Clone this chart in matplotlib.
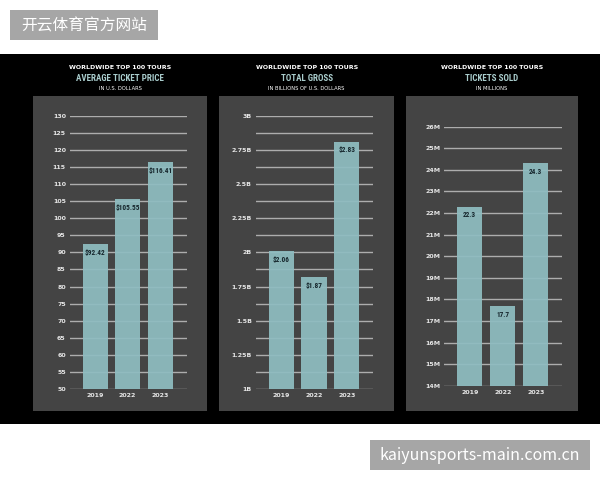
import matplotlib
matplotlib.use("Agg")
import matplotlib.pyplot as plt
from matplotlib.patches import Rectangle

# ---------------- data ----------------
years = ["2019", "2022", "2023"]

price_values = [92.42, 105.55, 116.41]
price_labels = ["$92.42", "$105.55", "$116.41"]
price_ticks = [50, 55, 60, 65, 70, 75, 80, 85, 90, 95, 100, 105, 110, 115, 120, 125, 130]
price_ticklabels = [str(t) for t in price_ticks]

gross_values = [2.01, 1.82, 2.81]          # bar heights as drawn
gross_labels = ["$2.06", "$1.87", "$2.83"]  # printed labels
gross_ticks = [1.0, 1.25, 1.5, 1.75, 2.0, 2.25, 2.5, 2.75, 3.0]
gross_ticklabels = ["1B", "1.25B", "1.5B", "1.75B", "2B", "2.25B", "2.5B", "2.75B", "3B"]
gross_minor = [1.125, 1.375, 1.625, 1.875, 2.125, 2.375, 2.625, 2.875]

tickets_values = [22.3, 17.7, 24.3]
tickets_labels = ["22.3", "17.7", "24.3"]
tickets_ticks = list(range(14, 27))
tickets_ticklabels = [f"{t}M" for t in tickets_ticks]

titles_top = ["WORLDWIDE TOP 100 TOURS"] * 3
titles_main = ["AVERAGE TICKET PRICE", "TOTAL GROSS", "TICKETS SOLD"]
titles_sub = ["IN U.S. DOLLARS", "IN BILLIONS OF U.S. DOLLARS", "IN MILLIONS"]

# ---------------- style ----------------
W, H = 600, 480
BAR = "#8fbdc1"
PANEL = "#444444"
GRID = "#adadad"
TEAL = "#a9cccc"
NARROW = ["Roboto Condensed", "Liberation Sans Narrow", "Roboto", "DejaVu Sans"]

fig = plt.figure(figsize=(6, 4.8), dpi=100)
fig.patch.set_facecolor("white")


def fx(x):
    return x / W


def fy(y):
    return 1 - y / H


def rect(x0, y0, x1, y1, color, z=0):
    fig.patches.append(Rectangle((fx(x0), fy(y1)), fx(x1) - fx(x0), fy(y0) - fy(y1),
                                 transform=fig.transFigure, facecolor=color,
                                 edgecolor="none", zorder=z))


# black band
rect(0, 54, 600, 424, "#000000")
# panels
panels = [(33.3, 207.3), (219.3, 394), (406, 578)]
for (a, b) in panels:
    rect(a, 96, b, 410.7, PANEL, z=1)

# titles
for (a, b), t1, t2, t3 in zip(panels, titles_top, titles_main, titles_sub):
    cx = fx((a + b) / 2)
    fig.text(cx, fy(67.3), t1, ha="center", va="center", color="white",
             fontsize=4.5, fontweight="bold")
    fig.text(cx, fy(78.3), t2, ha="center", va="center", color=TEAL,
             fontsize=6.5, fontweight="bold", family=NARROW)
    fig.text(cx, fy(88), t3, ha="center", va="center", color="white",
             fontsize=3.7)


def make_axes(x0, x1, ytop, ybot, xlim, ylim, values, labels, ticks, ticklabels,
              minor=None):
    ax = fig.add_axes([fx(x0), fy(ybot), fx(x1) - fx(x0), fy(ytop) - fy(ybot)])
    ax.set_facecolor("none")
    ax.set_zorder(3)
    for t in ticks:
        ax.axhline(t, color=GRID, lw=1.0, zorder=1)
    if minor:
        for t in minor:
            ax.axhline(t, color=GRID, lw=1.0, zorder=1)
    xs = range(len(years))
    ax.bar(xs, [v - ylim[0] for v in values], bottom=ylim[0], width=0.77,
           color=BAR, alpha=0.93, zorder=2)
    for x, v, lab in zip(xs, values, labels):
        ax.annotate(lab, (x, v), xytext=(0, -6.3), textcoords="offset points",
                    ha="center", va="center", color="#16262c", fontsize=5.2,
                    fontweight="bold", family=NARROW, zorder=3)
    ax.set_xlim(*xlim)
    ax.set_ylim(*ylim)
    ax.set_yticks(ticks)
    ax.set_yticklabels(ticklabels)
    ax.set_xticks(list(xs))
    ax.set_xticklabels(years)
    ax.tick_params(length=0, colors="#e6e6e6", labelsize=4.5, pad=3)
    for lab in ax.get_xticklabels() + ax.get_yticklabels():
        lab.set_fontweight("bold")
    for s in ax.spines.values():
        s.set_visible(False)
    return ax


make_axes(70, 187, 115.7, 389, (-0.77, 2.82), (50, 130),
          price_values, price_labels, price_ticks, price_ticklabels)
make_axes(256, 372.7, 115.7, 389, (-0.77, 2.79), (1.0, 3.0),
          gross_values, gross_labels, gross_ticks, gross_ticklabels, minor=gross_minor)
make_axes(444.3, 561.7, 126.7, 385.7, (-0.77, 2.785), (14, 26),
          tickets_values, tickets_labels, tickets_ticks, tickets_ticklabels)

# watermarks
CJK = ["Noto Sans CJK SC", "DejaVu Sans"]
rect(10, 10, 158, 40, "#a6a6a6", z=5)
fig.text(fx(84), fy(25.5), "开云体育官方网站", ha="center", va="center", color="white",
         fontsize=11.3, family=CJK, zorder=6)
rect(370, 440, 590, 469.5, "#a6a6a6", z=5)
fig.text(fx(479.5), fy(455), "kaiyunsports-main.com.cn", ha="center", va="center",
         color="white", fontsize=11.5, family=CJK, zorder=6)

fig.savefig("out.png", dpi=100, facecolor="white")
